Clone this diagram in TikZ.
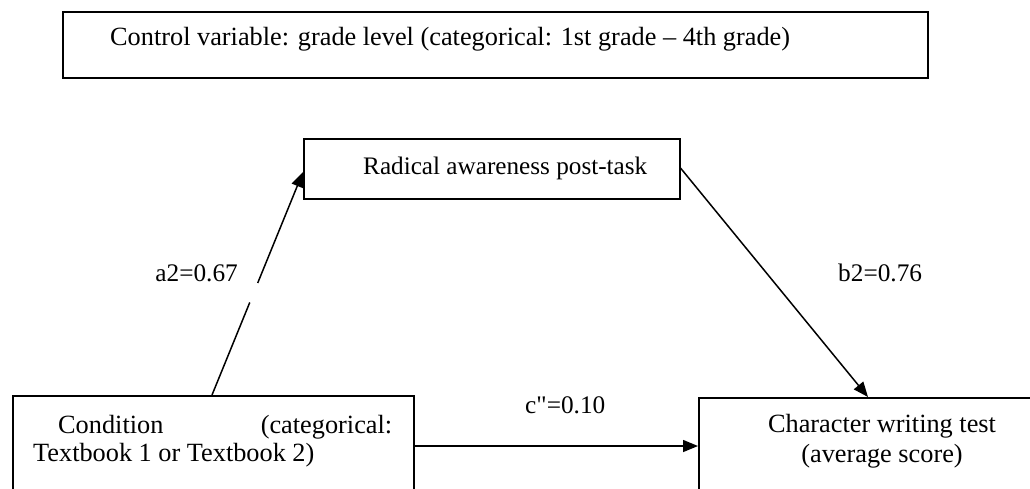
\documentclass[tikz,border=0pt]{standalone}
\usepackage{fontspec}
\setmainfont{Liberation Serif}
\newfontfamily\lblfont{Liberation Serif}
\usetikzlibrary{arrows.meta,calc}
\begin{document}
\begin{tikzpicture}[x=1pt,y=-1pt,
  box/.style={draw,line width=1.5pt,rectangle,inner sep=0pt,anchor=north west},
  txt/.style={font=\fontsize{26.3}{28}\selectfont,inner sep=0pt,anchor=base west},
  lbl/.style={font=\lblfont\fontsize{25.3}{28}\selectfont,inner sep=0pt,anchor=base west},
  arr/.style={line width=1.5pt,-{Triangle[length=15pt,width=12pt]}}]
\useasboundingbox (0,0) rectangle (1030,488);
\clip (0,0) rectangle (1030,488);
% boxes
\node[box,minimum width=865pt,minimum height=66pt] (ctrl) at (62,11) {};
\node[box,minimum width=376pt,minimum height=60pt] (rad) at (303,138) {};
\node[box,minimum width=401pt,minimum height=200pt] (cond) at (12,395) {};
\node[box,minimum width=400pt,minimum height=200pt] (char) at (698,397) {};
% texts
\node[txt] (ctrltxt) at (110,45) {Control variable: grade level (categorical: 1st grade – 4th grade)};
\node[txt,font=\fontsize{25.2}{28}\selectfont] (radtxt) at (363,174) {Radical awareness post-task};
\node[txt] (condtxt) at (33,433) {\parbox[t]{370pt}{\hspace*{25pt}\makebox[334pt][s]{Condition (categorical:}\\Textbook 1 or Textbook 2)}};
\node[txt,anchor=base,font=\fontsize{26.3}{30}\selectfont] (chartxt) at (882,432) {\parbox[t]{300pt}{\centering Character writing test\\(average score)}};
% labels
\node[lbl,anchor=base east] (la) at (238,281) {a2=0.67};
\node[lbl] (lb) at (838,281) {b2=0.76};
\node[lbl] (lc) at (525,413) {c"=0.10};
% connectors
\draw[arr,dash pattern=on 100pt off 21pt on 400pt] ($(cond.north west)+(200,0)$) -- ($(rad.north west)+(0,34)$);
\draw[arr] ($(rad.north east)+(0,30)$) -- ($(char.north west)+(170,0)$);
\draw[arr] ($(cond.north east)+(0,51)$) -- ($(char.north west)+(0,49)$);
\end{tikzpicture}
\end{document}
